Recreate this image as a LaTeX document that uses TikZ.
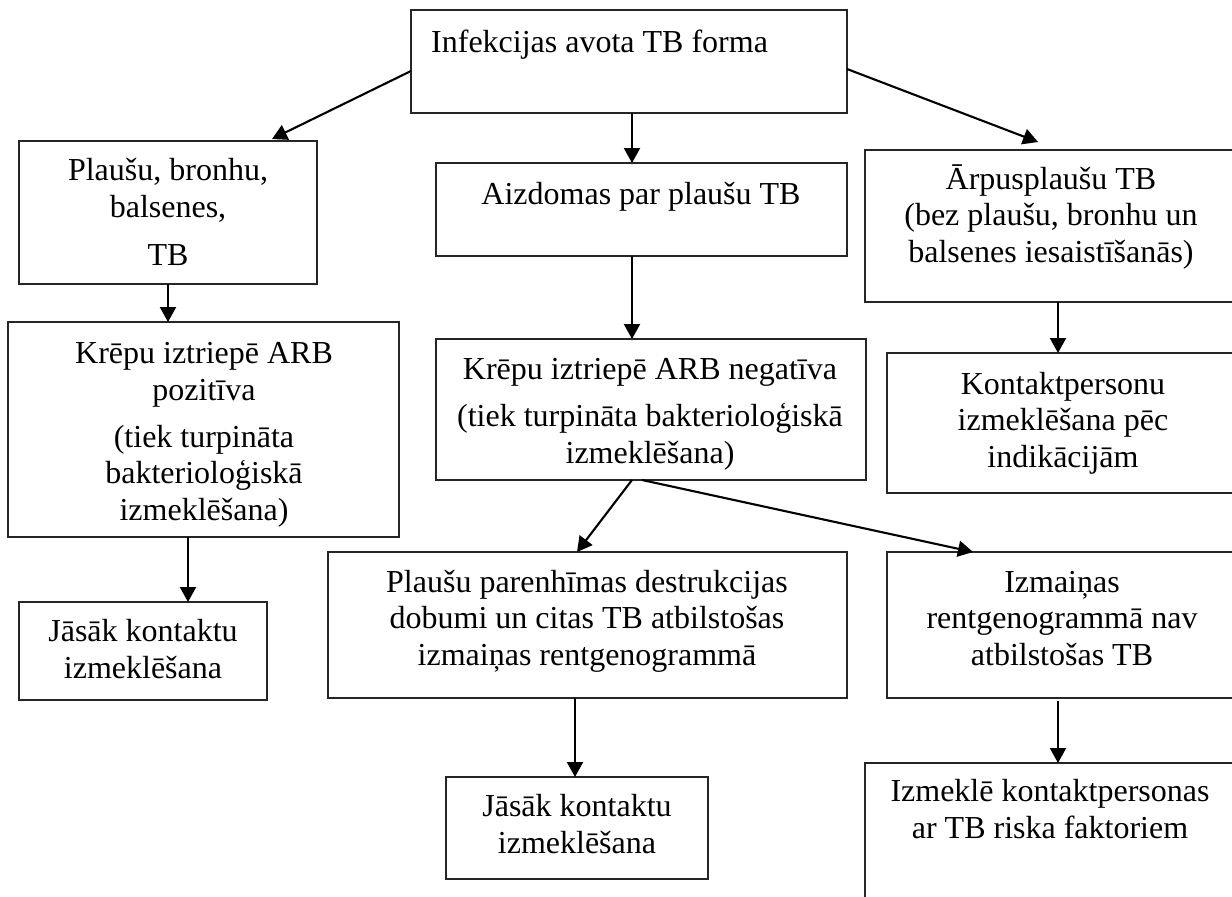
\documentclass[tikz,border=0pt]{standalone}
\usepackage{fontspec}
\setmainfont{Liberation Serif}
\usetikzlibrary{arrows.meta,calc}
\begin{document}
\begin{tikzpicture}[x=1pt,y=-1pt,
  box/.style={draw=black!85, line width=1.3pt, inner sep=0pt, outer sep=0pt, anchor=north west},
  txt/.style={align=center, font=\fontsize{32}{36.5}\selectfont, inner sep=0pt, anchor=base},
  arr/.style={line width=2.1pt, -{Triangle[length=15pt,width=16pt]}}]
\useasboundingbox (0,0) rectangle (1232,897);
\fill[white] (0,0) rectangle (1232,897);
\clip (0,0) rectangle (1232,897);

% boxes
\node[box, minimum width=436pt, minimum height=103pt] (top) at (411,10) {};
\node[box, minimum width=298pt, minimum height=143pt] (box1) at (19,141) {};
\node[box, minimum width=391pt, minimum height=215pt] (box2) at (8,322) {};
\node[box, minimum width=248pt, minimum height=98pt] (jas1) at (19,602) {};
\node[box, minimum width=411pt, minimum height=93pt] (aizd) at (436,163) {};
\node[box, minimum width=430pt, minimum height=141pt] (neg) at (436,339) {};
\node[box, minimum width=380pt, minimum height=152pt] (arp) at (865,150) {};
\node[box, minimum width=353pt, minimum height=140pt] (kont) at (887,353) {};
\node[box, minimum width=519pt, minimum height=146pt] (par) at (328,552) {};
\node[box, minimum width=350pt, minimum height=146pt] (izm) at (887,552) {};
\node[box, minimum width=262pt, minimum height=102pt] (jas2) at (446,777) {};
\node[box, minimum width=372pt, minimum height=200pt] (izk) at (865,763) {};

% texts (anchored at the baseline of the last line)
\node[txt, anchor=base west] (ttop) at (431,52) {Infekcijas avota TB forma};
\node[txt] (tbox1) at (168,265) {Plaušu, bronhu,\\ balsenes,\\[11.5pt] TB};
\node[txt] (tbox2) at (204,520) {Krēpu iztriepē ARB\\ pozitīva\\[10.5pt] (tiek turpināta\\ bakterioloģiskā\\ izmeklēšana)};
\node[txt] (tjas1) at (143,678) {Jāsāk kontaktu\\ izmeklēšana};
\node[txt] (taizd) at (641,204) {Aizdomas par plaušu TB};
\node[txt] (tneg) at (650,463) {Krēpu iztriepē ARB negatīva\\[10.5pt] (tiek turpināta bakterioloģiskā\\ izmeklēšana)};
\node[txt] (tarp) at (1051,262) {Ārpusplaušu TB\\ (bez plaušu, bronhu un\\ balsenes iesaistīšanās)};
\node[txt] (tkont) at (1063,467) {Kontaktpersonu\\ izmeklēšana pēc\\ indikācijām};
\node[txt] (tpar) at (587,665) {Plaušu parenhīmas destrukcijas\\ dobumi un citas TB atbilstošas\\ izmaiņas rentgenogrammā};
\node[txt] (tizm) at (1062,665) {Izmaiņas\\ rentgenogrammā nav\\ atbilstošas TB};
\node[txt] (tjas2) at (577,853) {Jāsāk kontaktu\\ izmeklēšana};
\node[txt] (tizk) at (1050,838) {Izmeklē kontaktpersonas\\ ar TB riska faktoriem};

% arrows
\draw[arr] ([yshift=-9.5pt]top.west) -- ([xshift=-45pt,yshift=2pt]box1.north east);
\draw[arr] ([xshift=3pt]top.south) -- ([xshift=3pt]top.south |- aizd.north);
\draw[arr] ([yshift=-7.5pt]top.east) -- ([xshift=173pt,yshift=8pt]arp.north west);
\draw[arr] (box1.south) -- (box1.south |- box2.north);
\draw[arr] ([xshift=-15.5pt]box2.south) -- ([xshift=-15.5pt]box2.south |- jas1.north);
\draw[arr] ([xshift=-9.5pt]aizd.south) -- ([xshift=-9.5pt]aizd.south |- neg.north);
\draw[arr] ([xshift=3pt]arp.south) -- ([xshift=3pt]arp.south |- kont.north);
\draw[arr] ([xshift=-19pt]neg.south) -- ([xshift=-10.5pt]par.north);
\draw[arr] ([xshift=-9pt]neg.south) -- ([xshift=86pt]izm.north west);
\draw[arr] ([xshift=-12.5pt]par.south) -- ([xshift=-12.5pt]par.south |- jas2.north);
\draw[arr] ([xshift=-4pt,yshift=-3pt]izm.south) -- ([xshift=-4pt]izm.south |- izk.north);
\end{tikzpicture}
\end{document}
